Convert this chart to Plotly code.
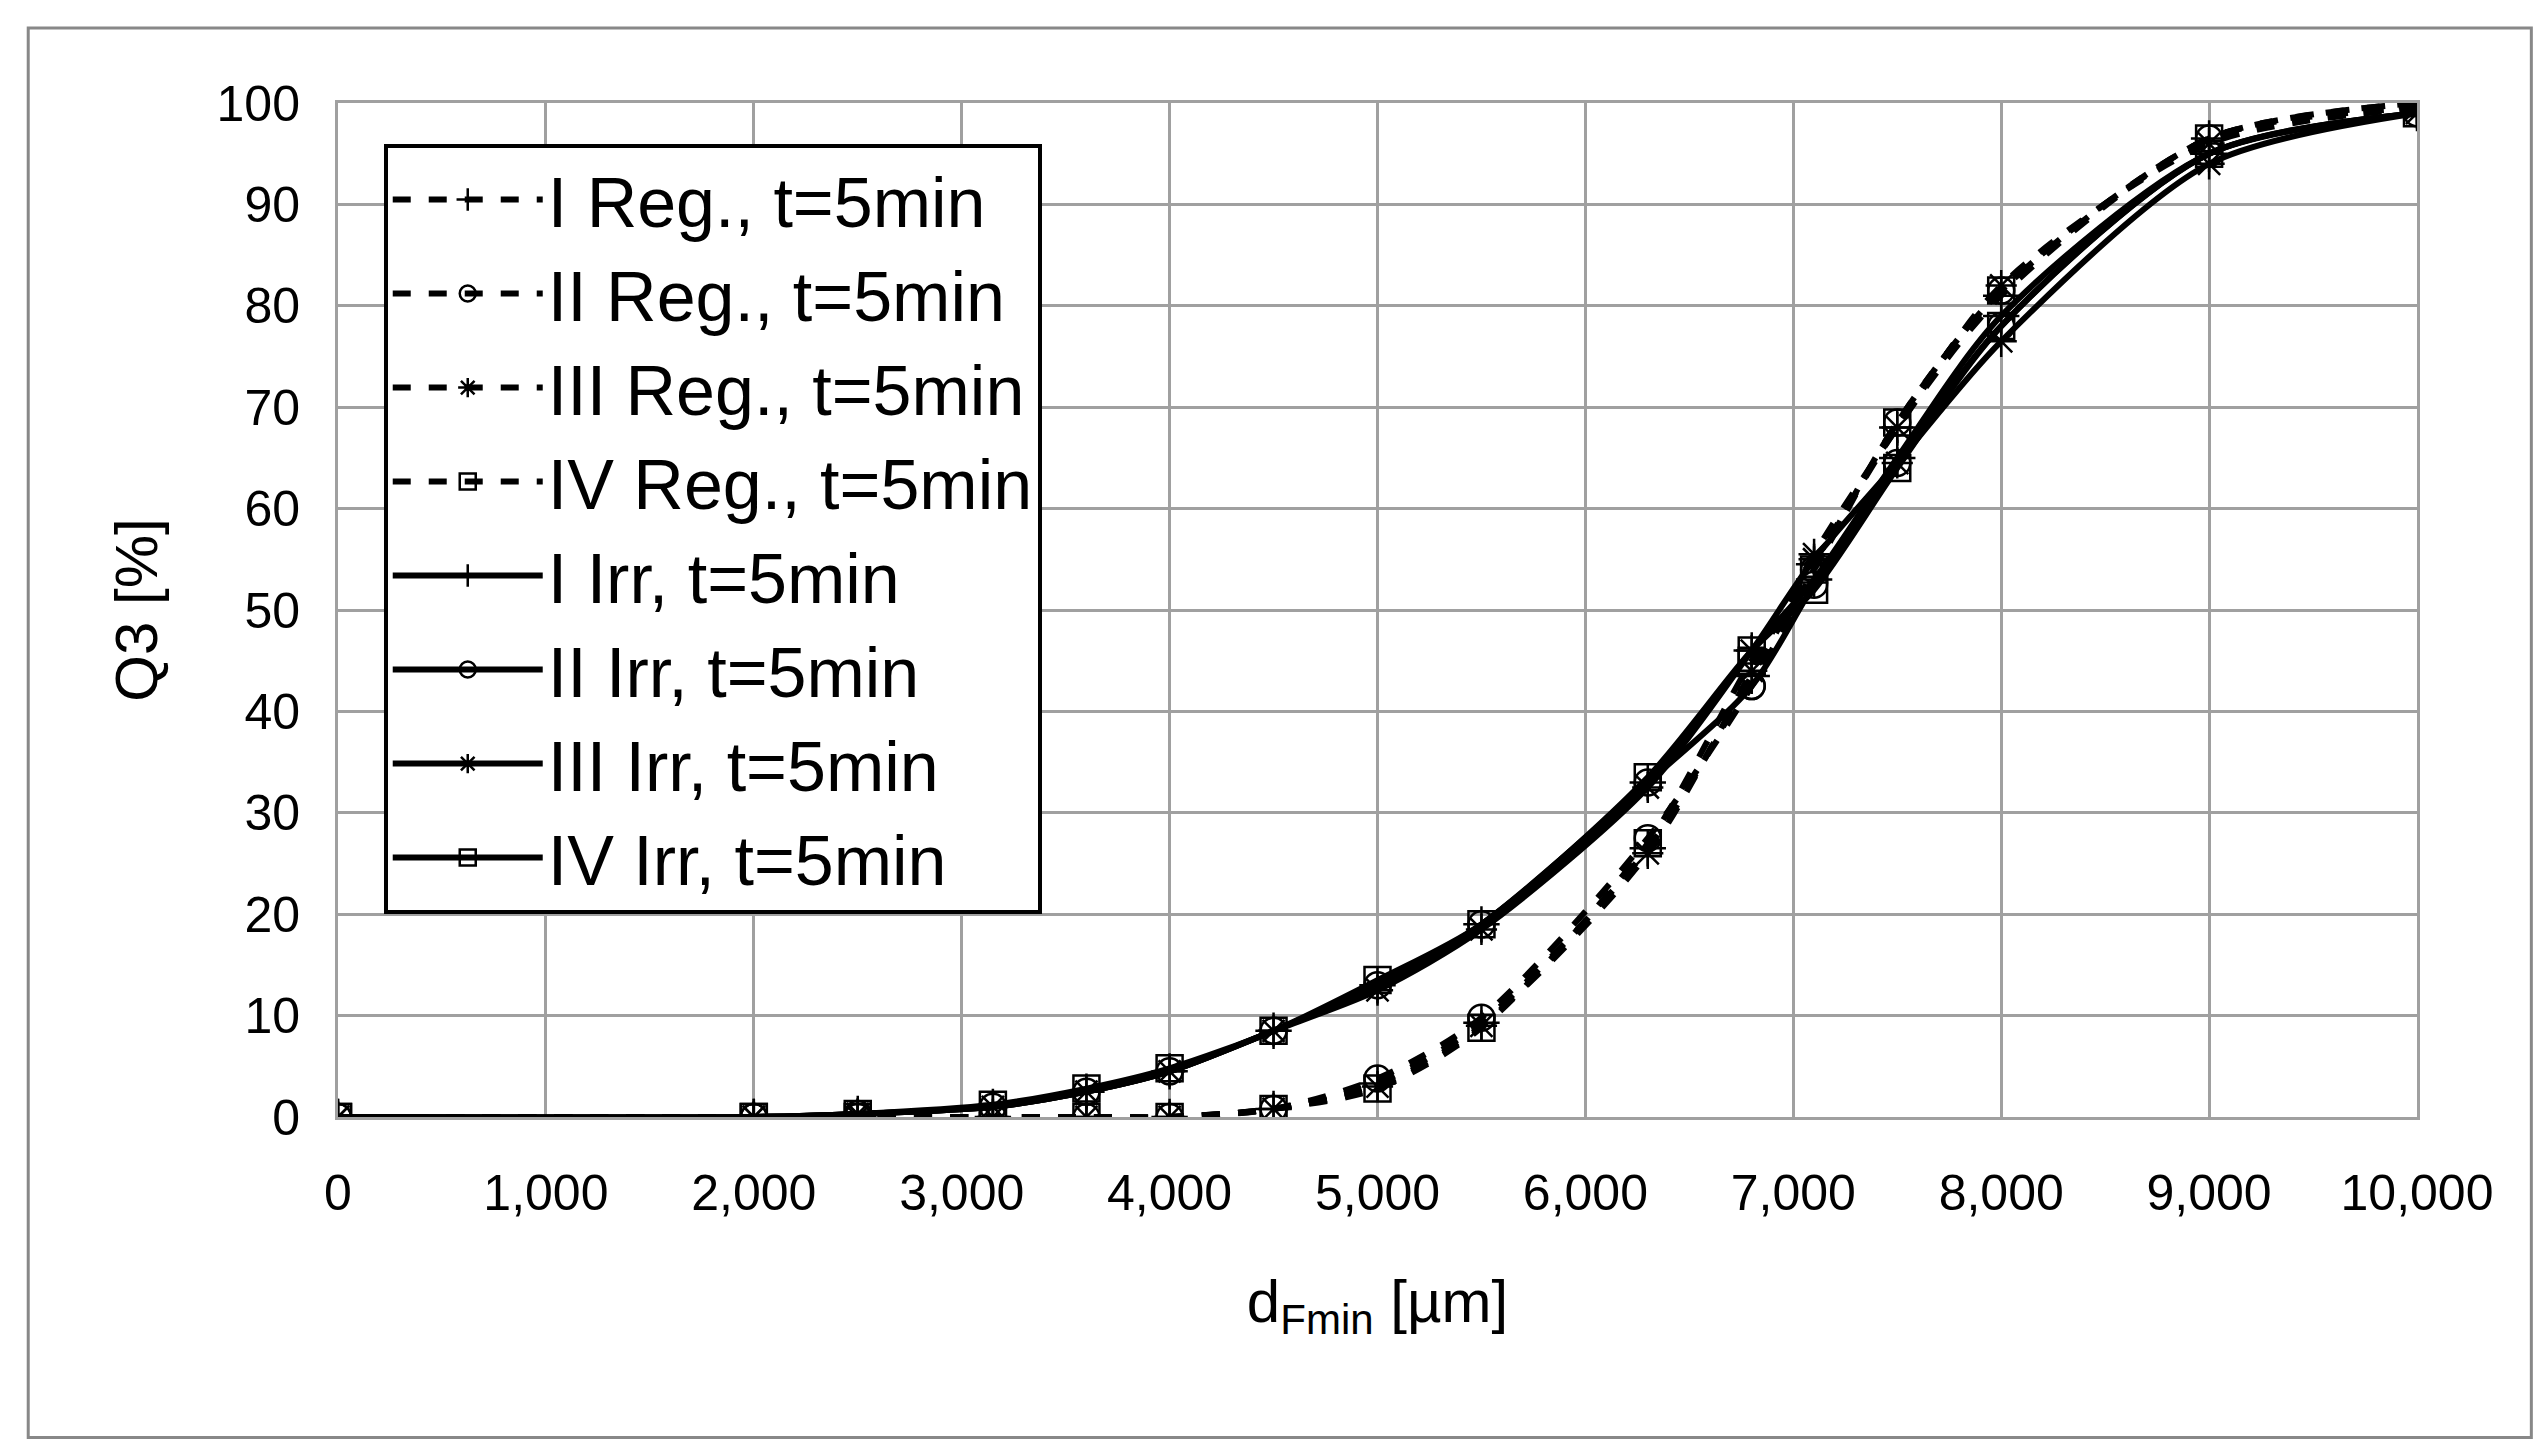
import plotly.graph_objects as go

x_vals = [0, 2000, 2500, 3150, 3600, 4000, 4500, 5000, 5500, 6300, 6800, 7100, 7500, 8000, 9000, 10000]

reg_1 = [0, 0, 0, 0, 0, 0, 0.8, 3.3, 9.3, 26.5, 43.5, 54.5, 68, 81, 96.5, 99.5]
reg_2 = [0, 0, 0, 0, 0, 0, 0.8, 3.8, 9.8, 27.5, 42.5, 54, 68.5, 81.5, 96.5, 100]
reg_3 = [0, 0, 0, 0, 0, 0, 0.8, 3.0, 9.0, 26, 44, 55.5, 68, 82, 96, 99.5]
reg_4 = [0, 0, 0, 0, 0, 0, 0.8, 2.8, 8.8, 27, 45, 54, 68.5, 81.5, 96.5, 100]
irr_1 = [0, 0, 0.3, 1.0, 2.5, 4.5, 8.5, 13, 19, 33, 46, 53, 65, 79, 95, 99]
irr_2 = [0, 0, 0.3, 1.0, 2.5, 4.5, 8.5, 13, 19, 33, 42.5, 52.5, 64.5, 78, 95, 99]
irr_3 = [0, 0, 0.3, 1.0, 2.5, 4.5, 8.5, 12.5, 18.5, 32.5, 46, 55, 64.5, 76.5, 94, 99]
irr_4 = [0, 0, 0.3, 1.2, 2.8, 4.8, 8.5, 13.5, 19, 33.5, 46, 52, 64, 78, 95, 99]

series = [
    ("I Reg., t=5min", reg_1, "dash", "cross-thin-open"),
    ("II Reg., t=5min", reg_2, "dash", "circle-open"),
    ("III Reg., t=5min", reg_3, "dash", "asterisk-open"),
    ("IV Reg., t=5min", reg_4, "dash", "square-open"),
    ("I Irr, t=5min", irr_1, "solid", "cross-thin-open"),
    ("II Irr, t=5min", irr_2, "solid", "circle-open"),
    ("III Irr, t=5min", irr_3, "solid", "asterisk-open"),
    ("IV Irr, t=5min", irr_4, "solid", "square-open"),
]

font = "Liberation Sans Narrow, Liberation Sans, sans-serif"

fig = go.Figure()
for name, y, dash, sym in series:
    fig.add_trace(go.Scatter(
        x=x_vals, y=y, name=name, mode="lines+markers",
        line=dict(color="black", width=6, dash=dash, shape="spline", smoothing=0.8),
        marker=dict(symbol=sym, size=26, color="black", line=dict(width=2.5, color="black")),
    ))

fig.update_layout(
    width=2544, height=1449,
    paper_bgcolor="white", plot_bgcolor="white",
    font=dict(family=font, size=50, color="black"),
    margin=dict(l=330, r=135, t=95, b=340),
    showlegend=True,
    legend=dict(x=0.022, y=0.96, xanchor="left", yanchor="top",
                bgcolor="white", bordercolor="black", borderwidth=4,
                font=dict(size=70), itemwidth=150, tracegroupgap=0),
)
# outer frame around the whole chart
fig.add_shape(type="rect", xref="paper", yref="paper", x0=-0.149, x1=1.055, y0=-0.316, y1=1.074,
              line=dict(color="#888888", width=3), layer="below")
fig.update_xaxes(range=[0, 10000], tickvals=list(range(0, 10001, 1000)), tickformat=",d",
                 showgrid=True, gridcolor="#a0a0a0", gridwidth=3, zeroline=False,
                 showline=True, linecolor="#a0a0a0", linewidth=3, ticks="", ticklabelstandoff=30,
                 mirror=True,
                 title=dict(text="d<sub>Fmin</sub> [µm]", font=dict(size=60), standoff=60))
fig.update_yaxes(range=[0, 100], dtick=10, showgrid=True, gridcolor="#a0a0a0", gridwidth=3,
                 zeroline=False, showline=True, linecolor="#a0a0a0", linewidth=3, ticks="",
                 ticklabelstandoff=25, mirror=True,
                 title=dict(text="Q3 [%]", font=dict(size=60), standoff=40))

fig.write_html("out.html")
